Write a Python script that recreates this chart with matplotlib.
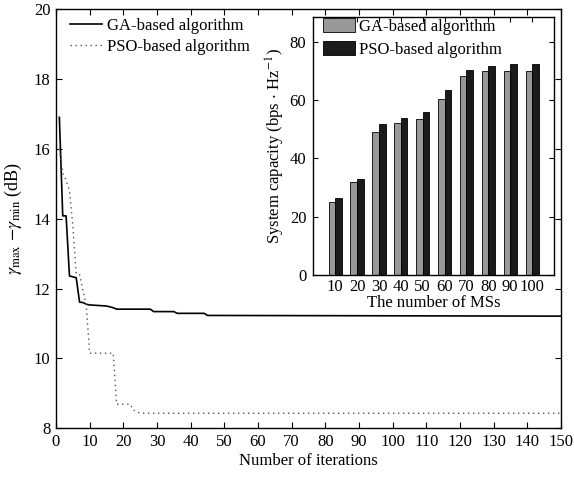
import matplotlib
matplotlib.use("Agg")
import matplotlib.pyplot as plt
import numpy as np

plt.rcParams['font.family'] = ['Liberation Serif', 'DejaVu Serif']
plt.rcParams['mathtext.fontset'] = 'stix'

# Main chart data (iteration, value) breakpoints
ga_iter = [1, 2, 3, 4, 6, 7, 8, 9, 10, 15, 17, 18, 28, 29, 35, 36, 44, 45, 150]
ga_val = [16.9, 14.08, 14.08, 12.36, 12.31, 11.61, 11.6, 11.55, 11.53, 11.5, 11.45, 11.41, 11.41, 11.34, 11.34, 11.29, 11.29, 11.23, 11.21]
pso_iter = [1, 2, 3, 4, 5, 6, 7, 9, 10, 17, 18, 22, 23, 25, 150]
pso_val = [16.0, 15.3, 15.1, 14.8, 13.8, 12.42, 12.4, 11.5, 10.15, 10.15, 8.69, 8.69, 8.52, 8.43, 8.43]

# Inset bar data
ms_labels = ['10', '20', '30', '40', '50', '60', '70', '80', '90', '100']
ga_cap = [25.1, 31.8, 48.9, 52.0, 53.6, 60.5, 68.1, 70.1, 70.1, 70.1]
pso_cap = [26.3, 32.9, 51.8, 53.8, 55.8, 63.4, 70.2, 71.8, 72.3, 72.3]

W, H = 574, 479
fig = plt.figure(figsize=(W / 100, H / 100), dpi=100)

def rect(l, t, r, b):
    return [l / W, 1 - b / H, (r - l) / W, (b - t) / H]

ax = fig.add_axes(rect(56, 9, 561, 428.3))
ax.plot(ga_iter, ga_val, '-', color='black', lw=1.2, label='GA-based algorithm')
ax.plot(pso_iter, pso_val, linestyle=(0, (1, 2.6)), color='#555555', lw=1.0,
        label='PSO-based algorithm')
ax.set_xlim(0, 150)
ax.set_ylim(8, 20)
ax.set_xticks(np.arange(0, 151, 10))
ax.set_yticks(np.arange(8, 21, 2))
ax.tick_params(direction='in', top=True, right=True, length=4, width=0.8,
               labelsize=12, pad=4)
for s in ax.spines.values():
    s.set_linewidth(1.0)
ax.set_xlabel('Number of iterations', fontsize=12, labelpad=2)
ax.set_ylabel(r'$\gamma_{\rm max}$ $-\gamma_{\rm min}$ (dB)', fontsize=13)
ax.yaxis.set_label_coords(-0.064, 0.5)
ax.legend(loc='upper left', bbox_to_anchor=((70 - 56) / 505, 1 - (18 - 9) / 419.3),
          frameon=False, fontsize=12, handlelength=1.9, handletextpad=0.3,
          labelspacing=0.3, borderpad=0, borderaxespad=0)

# Inset
ins = fig.add_axes(rect(313.3, 16.7, 554, 275))
ins.set_facecolor('white')
x = np.arange(1, len(ms_labels) + 1)
bw = 0.3
ins.bar(x - bw / 2, ga_cap, bw, color='#999999', edgecolor='black', lw=0.6,
        label='GA-based algorithm')
ins.bar(x + bw / 2, pso_cap, bw, color='#1c1a1a', edgecolor='black', lw=0.6,
        label='PSO-based algorithm')
ins.set_xlim(0, 11)
ins.set_ylim(0, 88.6)
ins.set_xticks(x)
ins.set_xticklabels(ms_labels)
ins.set_yticks([0, 20, 40, 60, 80])
ins.tick_params(direction='in', top=True, right=True, length=3.5, width=0.8,
                labelsize=12, pad=5)
ins.tick_params(axis='x', pad=3)
for s in ins.spines.values():
    s.set_linewidth(1.0)
ins.set_xlabel('The number of MSs', fontsize=12, labelpad=0)
ins.set_ylabel(r'System capacity (bps$\,\cdot\,$Hz$^{-1}$)', fontsize=12, labelpad=2)
ins.legend(loc='upper left', bbox_to_anchor=(0.0415, 0.995), frameon=False,
           fontsize=12, handlelength=1.9, handleheight=0.96, handletextpad=0.25,
           labelspacing=0.35, borderpad=0, borderaxespad=0)

fig.savefig('out.png', dpi=100)
